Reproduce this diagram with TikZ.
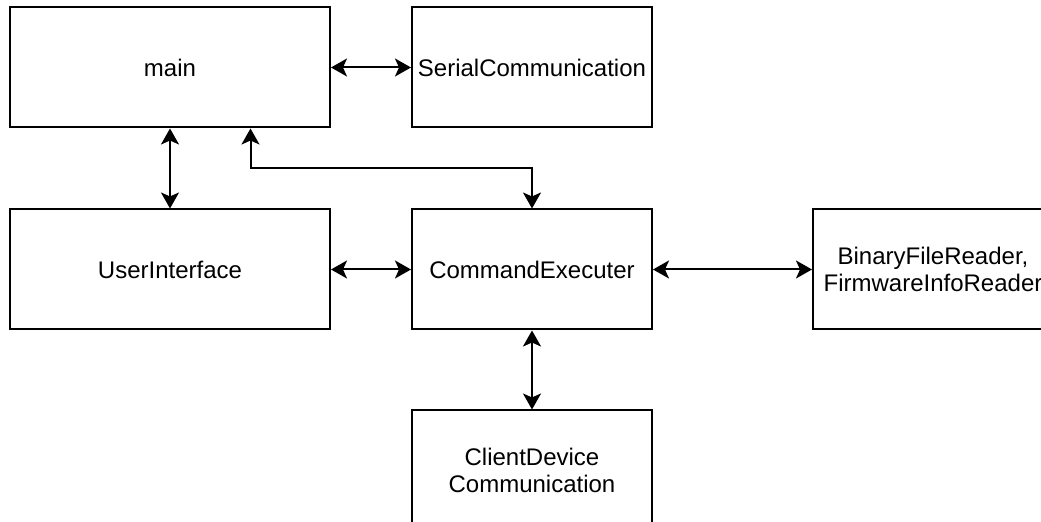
\documentclass[tikz,border=0pt]{standalone}
\usepackage{fontspec}
\setmainfont{Liberation Sans}
\usetikzlibrary{arrows.meta,calc,positioning}
\tikzset{
  every picture/.append style={line join=miter},
  mod box/.style={draw=black,line width=1pt,minimum width=120pt,minimum height=60pt,
    inner sep=0pt,align=center,font=\fontsize{12pt}{13.5pt}\selectfont},
  mod wide/.style={mod box,minimum width=160pt},
  mod link/.style={line width=1pt,{Stealth[length=8pt,width=9pt,inset=2pt]}-{Stealth[length=8pt,width=9pt,inset=2pt]}}
}
\begin{document}
\begin{tikzpicture}
  \useasboundingbox (0,0) rectangle (520.5pt,-261pt);
  % modules
  \node[mod wide] (main) at (85pt,-33.75pt) {main};
  \node[mod box, right=40pt of main] (serial) {SerialCommunication};
  \node[mod wide, below=40pt of main] (ui) {UserInterface};
  \node[mod box, right=40pt of ui] (cmd) {CommandExecuter};
  \node[mod box, right=79.5pt of cmd] (bin) {BinaryFileReader,\\FirmwareInfoReader};
  \node[mod box, below=39.5pt of cmd] (client) {ClientDevice\\Communication};
  % links
  \coordinate (mainport) at ($(main.south west)!0.75!(main.south east)$);
  \draw[mod link] (main) -- (serial);
  \draw[mod link] (main) -- (ui);
  \draw[mod link] (mainport) -- ++(0,-20pt) -| (cmd.north);
  \draw[mod link] (ui) -- (cmd);
  \draw[mod link] (cmd) -- (bin);
  \draw[mod link] (cmd) -- (client);
\end{tikzpicture}
\end{document}
